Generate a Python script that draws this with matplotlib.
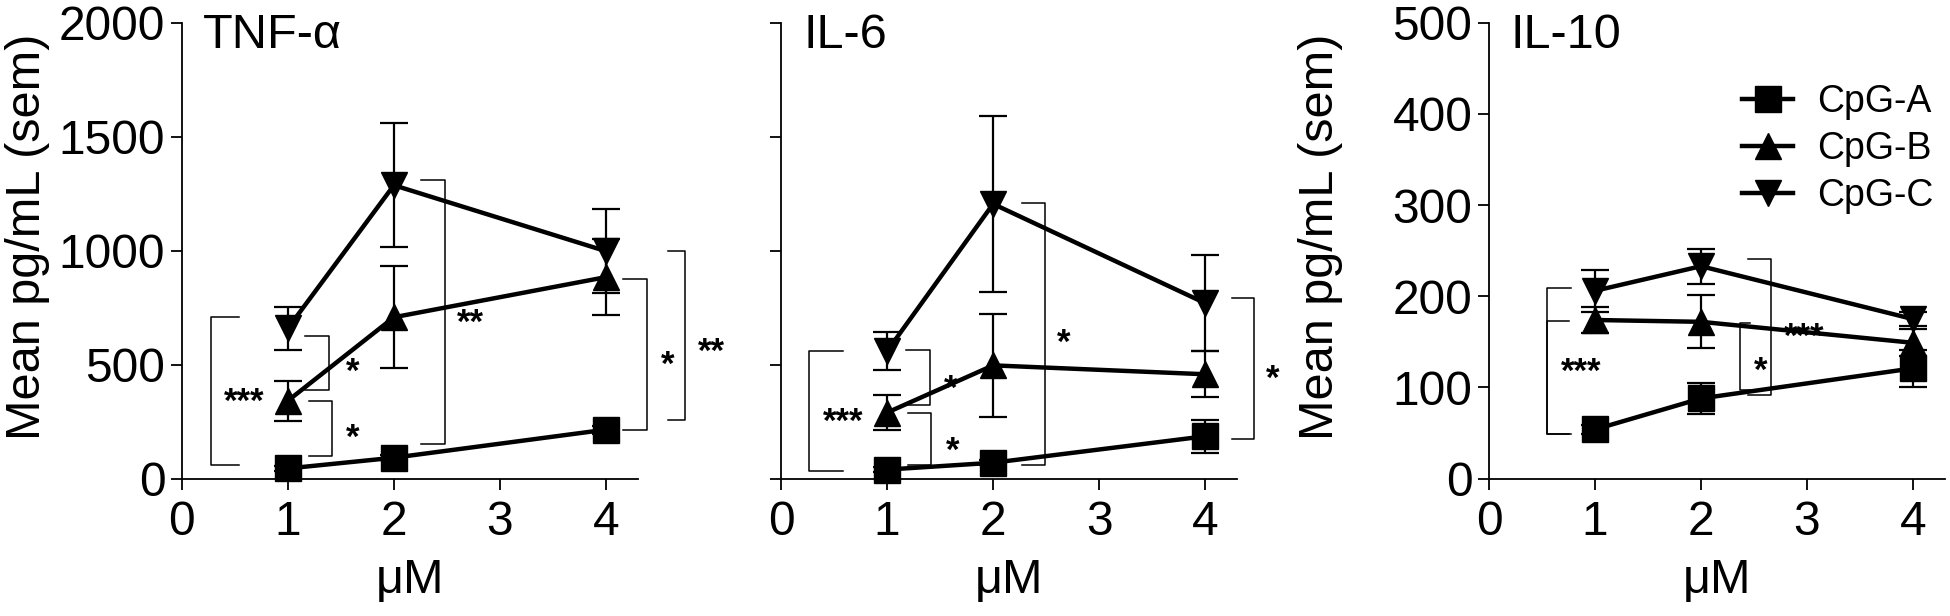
"""Recreate the CpG cytokine dose-response figure (TNF-a, IL-6, IL-10)."""

import matplotlib.pyplot as plt

plt.rcParams['font.family'] = ['Liberation Sans', 'DejaVu Sans']

DOSE = [1, 2, 4]
SERIES = ['CpG-A', 'CpG-B', 'CpG-C']
MARKERS = ['s', '^', 'v']

# TNF-alpha, mean and sem (pg/mL)
TNF_A = [45, 92, 215]
TNF_A_SEM = [12, 12, 18]
TNF_B = [342, 708, 884]
TNF_B_SEM = [88, 224, 166]
TNF_C = [660, 1287, 998]
TNF_C_SEM = [95, 272, 183]

# IL-6
IL6_A = [40, 70, 186]
IL6_A_SEM = [10, 10, 73]
IL6_B = [290, 497, 458]
IL6_B_SEM = [75, 225, 100]
IL6_C = [560, 1205, 770]
IL6_C_SEM = [83, 385, 211]

# IL-10
IL10_A = [54, 88, 121]
IL10_A_SEM = [5, 17, 20]
IL10_B = [174, 172, 149]
IL10_B_SEM = [14, 29, 15]
IL10_C = [206, 233, 175]
IL10_C_SEM = [23, 19, 8]

# significance brackets: (vertical x, arm end x, y top, y bottom)
TNF_BRACKETS = [(0.27, 0.54, 709, 60), (1.39, 1.16, 628, 387),
                (1.42, 1.20, 341, 98), (2.48, 2.26, 1308, 151),
                (4.39, 4.16, 877, 212), (4.75, 4.59, 997, 258)]
TNF_STARS = [('***', 0.59, 379), ('*', 1.61, 508), ('*', 1.61, 219),
             ('**', 2.72, 726), ('*', 4.58, 539), ('**', 5.0, 596)]

IL6_BRACKETS = [(0.265, 0.585, 558, 32), (1.40, 1.18, 564, 322),
                (1.41, 1.20, 289, 62), (2.49, 2.27, 1208, 59),
                (4.46, 4.25, 792, 172)]
IL6_STARS = [('***', 0.585, 292), ('*', 1.60, 436), ('*', 1.62, 164),
             ('*', 2.67, 637), ('*', 4.64, 480)]

IL10_BRACKETS = [(0.55, 0.77, 209, 49), (0.55, 0.75, 173, 49),
                 (2.37, 2.46, 171, 97), (2.66, 2.44, 241, 92)]
IL10_STARS = [('***', 0.87, 128), ('*', 2.56, 129), ('***', 2.97, 166)]


def draw_panel(ax, means, sems, ymax, yticks, title, title_x,
               brackets, stars, ylabel_x=None):
    """Draw one cytokine panel onto ax and return the line handles."""
    handles = []
    for mean, sem, marker, name in zip(means, sems, MARKERS, SERIES):
        ax.errorbar(DOSE, mean, yerr=sem, fmt='none', ecolor='black',
                    elinewidth=1.6, capsize=10, capthick=1.6, clip_on=False)
        line, = ax.plot(DOSE, mean, color='black', lw=3.2, marker=marker,
                        ms=19, label=name, clip_on=False)
        handles.append(line)

    for xv, xa, ytop, ybot in brackets:
        ax.plot([xa, xv, xv, xa], [ytop, ytop, ybot, ybot], color='black',
                lw=1.1, clip_on=False)
    for txt, x, y in stars:
        ax.annotate(txt, (x, y), xytext=(0, -14), textcoords='offset points',
                    ha='center', va='baseline', fontsize=25,
                    fontweight='bold', annotation_clip=False)

    ax.set_xlim(0, 4.3)
    ax.set_ylim(0, ymax)
    ax.set_xticks([0, 1, 2, 3, 4])
    ax.set_yticks(yticks)
    for side in ['top', 'right']:
        ax.spines[side].set_visible(False)
    for side in ['left', 'bottom']:
        ax.spines[side].set_linewidth(1.3)
    ax.tick_params(direction='out', length=8, width=1.3, labelsize=34.5)
    ax.tick_params(axis='x', pad=7)
    ax.tick_params(axis='y', pad=4)
    ax.set_xlabel('\u03bcM', fontsize=35, labelpad=10)
    if ylabel_x is not None:
        ax.set_ylabel('Mean pg/mL (sem)', fontsize=35, va='center')
        ax.yaxis.set_label_coords(ylabel_x, 0.53)
    else:
        ax.tick_params(labelleft=False)
    ax.text(title_x, 0.944, title, transform=ax.transAxes, ha='left',
            va='baseline', fontsize=35)
    return handles


def main():
    fig = plt.figure(figsize=(19.5, 6.16), dpi=100)
    w, h, b = 0.2337, 0.7403, 0.2229
    ax1 = fig.add_axes([0.0933, b, w, h])
    ax2 = fig.add_axes([0.4006, b, w, h])
    ax3 = fig.add_axes([0.7636, b, w, h])

    draw_panel(ax1, [TNF_A, TNF_B, TNF_C], [TNF_A_SEM, TNF_B_SEM, TNF_C_SEM],
               2000, [0, 500, 1000, 1500, 2000], 'TNF-\u03b1', 0.047,
               TNF_BRACKETS, TNF_STARS, ylabel_x=-0.338)
    draw_panel(ax2, [IL6_A, IL6_B, IL6_C], [IL6_A_SEM, IL6_B_SEM, IL6_C_SEM],
               2000, [0, 500, 1000, 1500, 2000], 'IL-6', 0.05,
               IL6_BRACKETS, IL6_STARS)
    handles = draw_panel(ax3, [IL10_A, IL10_B, IL10_C],
                         [IL10_A_SEM, IL10_B_SEM, IL10_C_SEM],
                         500, [0, 100, 200, 300, 400, 500], 'IL-10', 0.047,
                         IL10_BRACKETS, IL10_STARS, ylabel_x=-0.369)

    fig.legend(handles=handles, loc='upper left',
               bbox_to_anchor=(1742 / 1950, 1 - 84 / 616), frameon=False,
               fontsize=27, handlelength=1.36, handletextpad=0.65,
               labelspacing=0.3, borderpad=0, borderaxespad=0)

    fig.savefig('out.png', dpi=100)


if __name__ == '__main__':
    main()
